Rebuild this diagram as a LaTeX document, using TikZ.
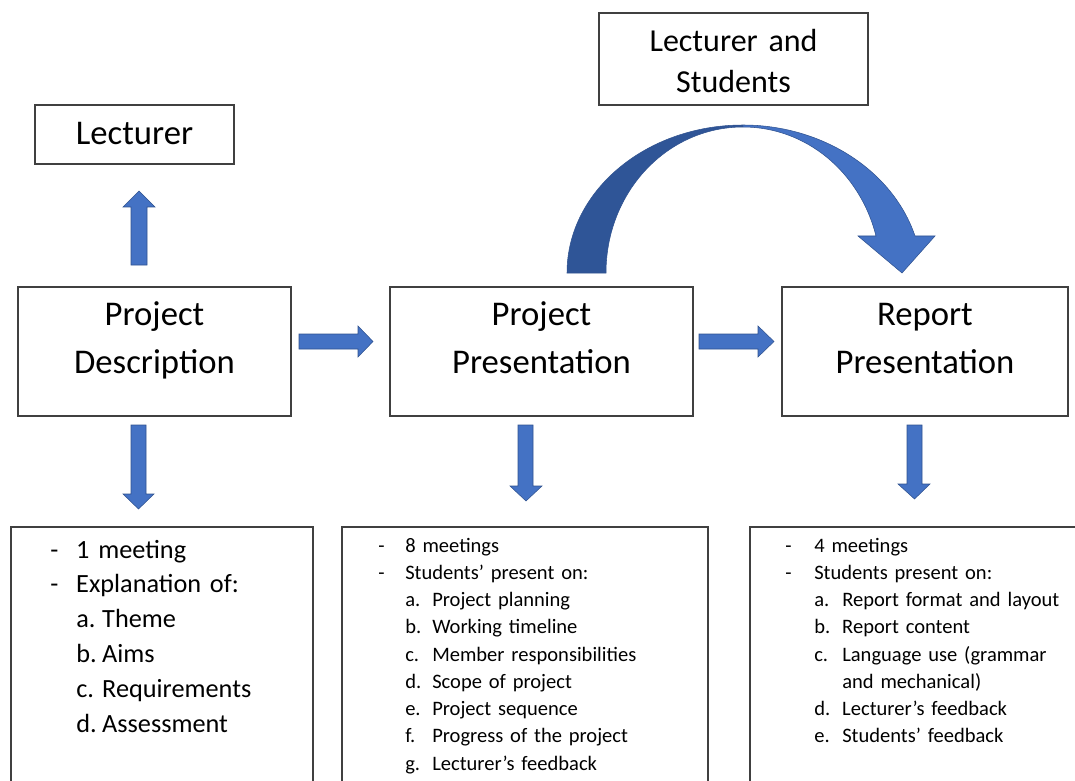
\documentclass[tikz,border=0pt]{standalone}
\usepackage{fontspec}
\setmainfont{Carlito}
\usetikzlibrary{fit}
\definecolor{arrowfill}{HTML}{4472C4}
\definecolor{arrowedge}{HTML}{2F528F}
\definecolor{arrowdark}{HTML}{2F5597}
\definecolor{boxline}{HTML}{404040}
% fixed-width label column for list markers
\newcommand\markcol[2]{\makebox[#1][l]{#2}}
\begin{document}
\begin{tikzpicture}[x=0.75pt,y=-0.75pt,
  box/.style={draw=boxline, line width=0.8pt, inner sep=0pt},
  blockarrow/.style={fill=arrowfill, draw=arrowedge, line width=0.4pt, line join=miter},
  headtext/.style={anchor=base, align=center, inner sep=0pt, text width=280pt,
    font=\fontsize{26}{36}\selectfont},
  smallhead/.style={headtext, font=\fontsize{24}{30.75}\selectfont},
  biglist/.style={anchor=base west, align=left, inner sep=0pt, text width=200pt,
    font=\fontsize{19.7}{26.2}\selectfont},
  smalllist/.style={anchor=base west, align=left, inner sep=0pt, text width=240pt,
    font=\fontsize{15.4}{20.45}\selectfont}]
\useasboundingbox (0,0) rectangle (1075,781);
\clip (0,0) rectangle (1075,781);

% upper boxes
\node[box, fit={(35,105) (234,164)}] (lect) {};
\node[box, fit={(599,13) (868,105)}] (both) {};
\node[box, fit={(18,287) (291,416)}] (desc) {};
\node[box, fit={(390,287) (693,416)}] (pres) {};
\node[box, fit={(782,287) (1068,416)}] (rep) {};

\node[headtext] (lect-t) at (134.5,145) {Lecturer};
\node[smallhead] (both-t) at (733.5,52) {Lecturer and\\Students};
\node[headtext] (desc-t) at (154.5,325) {Project\\Description};
\node[headtext] (pres-t) at (541.5,325) {Project\\Presentation};
\node[headtext] (rep-t) at (925,325) {Report\\Presentation};

% lower boxes, running past the bottom edge
\node[box, fit={(11,527) (313,800)}] (desc-l) {};
\node[box, fit={(342,527) (708,800)}] (pres-l) {};
\node[box, fit={(750,527) (1090,800)}] (rep-l) {};

\node[biglist] (desc-list) at (50,558) {%
  \markcol{19.5pt}{-}1 meeting\\
  \markcol{19.5pt}{-}Explanation of:\\
  \hspace*{19.5pt}\markcol{19.5pt}{a.}Theme\\
  \hspace*{19.5pt}\markcol{19.5pt}{b.}Aims\\
  \hspace*{19.5pt}\markcol{19.5pt}{c.}Requirements\\
  \hspace*{19.5pt}\markcol{19.5pt}{d.}Assessment};

\node[smalllist] (pres-list) at (378,552) {%
  \markcol{20.25pt}{-}8 meetings\\
  \markcol{20.25pt}{-}Students’ present on:\\
  \hspace*{20.25pt}\markcol{20.25pt}{a.}Project planning\\
  \hspace*{20.25pt}\markcol{20.25pt}{b.}Working timeline\\
  \hspace*{20.25pt}\markcol{20.25pt}{c.}Member responsibilities\\
  \hspace*{20.25pt}\markcol{20.25pt}{d.}Scope of project\\
  \hspace*{20.25pt}\markcol{20.25pt}{e.}Project sequence\\
  \hspace*{20.25pt}\markcol{20.25pt}{f.}Progress of the project\\
  \hspace*{20.25pt}\markcol{20.25pt}{g.}Lecturer’s feedback};

\node[smalllist] (rep-list) at (785,552) {%
  \markcol{21.75pt}{-}4 meetings\\
  \markcol{21.75pt}{-}Students present on:\\
  \hspace*{21.75pt}\markcol{21pt}{a.}Report format and layout\\
  \hspace*{21.75pt}\markcol{21pt}{b.}Report content\\
  \hspace*{21.75pt}\markcol{21pt}{c.}Language use (grammar\\
  \hspace*{42.75pt}and mechanical)\\
  \hspace*{21.75pt}\markcol{21pt}{d.}Lecturer’s feedback\\
  \hspace*{21.75pt}\markcol{21pt}{e.}Students’ feedback};

% block arrows
\draw[blockarrow] (131,265) -- (131,207) -- (123,207) -- (139,191) -- (155,207)
  -- (147,207) -- (147,265) -- cycle;
\draw[blockarrow] (299,334) -- (358,334) -- (358,326) -- (373,341.5) -- (358,357)
  -- (358,349) -- (299,349) -- cycle;
\draw[blockarrow] (699,334) -- (758,334) -- (758,326) -- (774,341.5) -- (758,357)
  -- (758,349) -- (699,349) -- cycle;
\draw[blockarrow] (131,425) -- (146,425) -- (146,494) -- (154,494) -- (138.5,509)
  -- (123,494) -- (131,494) -- cycle;
\draw[blockarrow] (518,425) -- (533,425) -- (533,486) -- (542,486) -- (526,501)
  -- (510,486) -- (518,486) -- cycle;
\draw[blockarrow] (907,425) -- (922,425) -- (922,484) -- (930,484) -- (914.5,499)
  -- (898,484) -- (907,484) -- cycle;

% curved arrow from the presentation box over to the report box
\fill[arrowdark] (567,273) .. controls (567,191) and (646,125) .. (743,125)
  -- (743,127) .. controls (667,127) and (606,192) .. (606,273) -- cycle;
\fill[arrowfill] (743,125) .. controls (823,125) and (893,171) .. (915,236)
  -- (935,236) -- (902,273) -- (858,236) -- (876,236)
  .. controls (860,172) and (806,127) .. (743,127) -- cycle;
\draw[arrowedge, line width=0.4pt, line join=miter]
  (567,273) .. controls (567,191) and (646,125) .. (743,125)
  .. controls (823,125) and (893,171) .. (915,236)
  -- (935,236) -- (902,273) -- (858,236) -- (876,236)
  .. controls (860,172) and (806,127) .. (743,127)
  .. controls (667,127) and (606,192) .. (606,273) -- cycle;
\end{tikzpicture}
\end{document}
